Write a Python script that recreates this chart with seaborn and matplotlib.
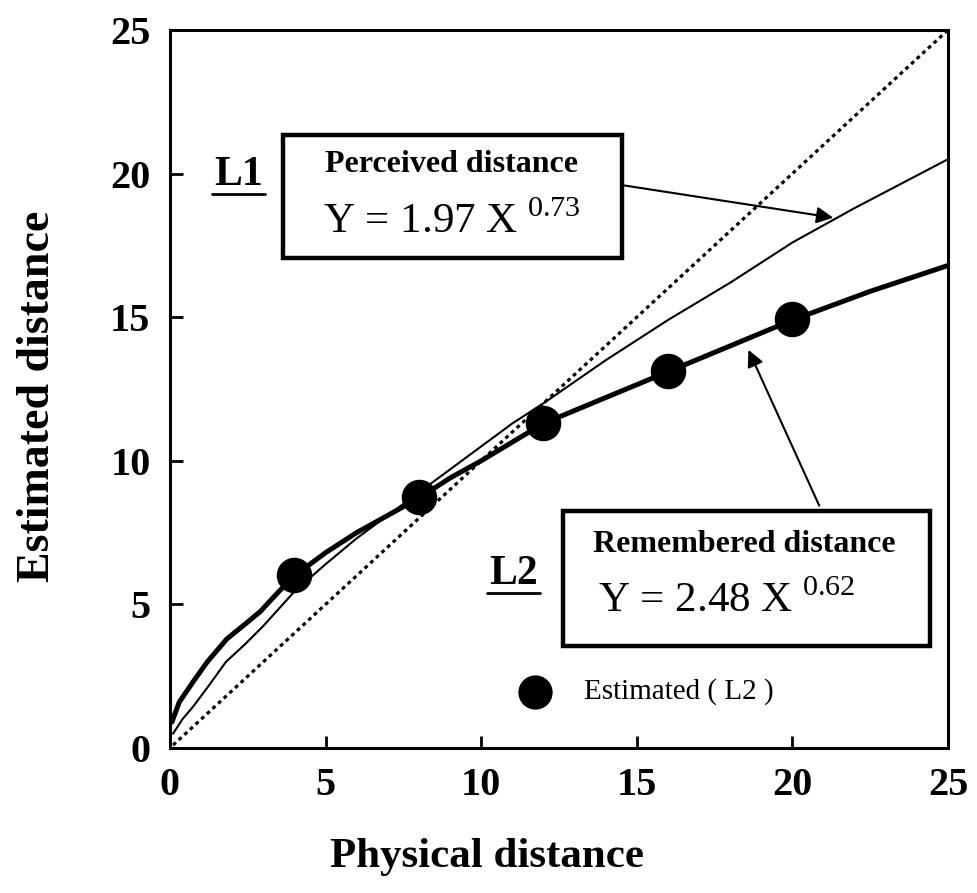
import numpy as np
import pandas as pd
import seaborn as sns
import matplotlib.pyplot as plt
from matplotlib.patches import Rectangle

# values
phys_thin = [0.1, 0.4, 0.75, 1.2, 1.8, 2.4, 3, 4, 5, 6, 7, 8, 9, 10, 11, 12, 14, 16, 18, 20, 22, 25]
perceived = [0.5, 1.0, 1.45, 2.1, 3.0, 3.6, 4.25, 5.45, 6.4, 7.3, 8.1, 8.9, 9.7, 10.5, 11.3, 12.0,
             13.5, 14.9, 16.2, 17.6, 18.8, 20.5]

phys_thick = [0.06, 0.3, 0.74, 1.2, 1.83, 2.4, 2.9, 3.5, 4, 5, 6, 7, 8, 9, 10, 11, 12, 14, 16, 18,
              20, 22.5, 25]
remembered = [0.9, 1.6, 2.3, 3.0, 3.8, 4.3, 4.75, 5.45, 6.0, 6.8, 7.5, 8.1, 8.7, 9.4, 10.0, 10.65,
              11.3, 12.2, 13.1, 14.0, 14.9, 15.9, 16.8]

phys_pts = [4, 8, 12, 16, 20]
estimated = [6.04, 8.73, 11.31, 13.13, 14.94]

diag = [0.1, 25]

sns.set_style("ticks")
plt.rcParams['font.family'] = ['Liberation Serif', 'DejaVu Serif']
plt.rcParams['mathtext.fontset'] = 'custom'
plt.rcParams['mathtext.rm'] = 'Liberation Serif'
for k in ['text.color', 'axes.labelcolor', 'xtick.color', 'ytick.color', 'axes.edgecolor']:
    plt.rcParams[k] = 'black'

fig = plt.figure(figsize=(9.78, 8.93), dpi=100)
ax = fig.add_axes([0.1738, 0.1624, 0.7955, 0.804])

sns.lineplot(x=diag, y=diag, ax=ax, color='black', lw=2.3, linestyle=(0, (1.2, 1.2)))
sns.lineplot(x=phys_thin, y=perceived, ax=ax, color='black', lw=1.5)
sns.lineplot(x=phys_thick, y=remembered, ax=ax, color='black', lw=3.6)
sns.scatterplot(x=phys_pts, y=estimated, ax=ax, color='black', s=560, edgecolor='black', zorder=5)

ax.set_xlim(0, 25)
ax.set_ylim(0, 25)
ax.set_xticks([0, 5, 10, 15, 20, 25])
ax.set_yticks([0, 5, 10, 15, 20, 25])
ax.tick_params(direction='in', length=9, width=2, labelsize=29, pad=14)
for lab in ax.get_xticklabels() + ax.get_yticklabels():
    lab.set_fontweight('bold')
for s in ax.spines.values():
    s.set_linewidth(2.2)
    s.set_color('black')

ax.set_xlabel('Physical distance', fontsize=31, fontweight='bold')
ax.xaxis.set_label_coords(0.407, -0.125)
ax.set_ylabel('Estimated distance', fontsize=33, fontweight='bold')
ax.yaxis.set_label_coords(-0.143, 0.49)

# annotation boxes
ax.add_patch(Rectangle((3.63, 17.06), 10.89, 4.28, fill=False, lw=3.2, ec='black', zorder=6))
ax.text(9.05, 20.3, 'Perceived distance', ha='center', va='center', fontsize=23, fontweight='bold')
ax.text(9.05, 18.3, r'Y = 1.97 X$^{\ 0.73}$', ha='center', va='center', fontsize=31)

ax.add_patch(Rectangle((12.63, 3.55), 11.79, 4.70, fill=False, lw=3.2, ec='black', zorder=6))
ax.text(18.45, 7.1, 'Remembered distance', ha='center', va='center', fontsize=23, fontweight='bold')
ax.text(17.9, 5.1, r'Y = 2.48 X$^{\ 0.62}$', ha='center', va='center', fontsize=31)

ax.text(2.2, 19.95, 'L1', ha='center', va='center', fontsize=30, fontweight='bold')
ax.plot([1.35, 3.05], [19.3, 19.3], color='black', lw=2)
ax.text(11.05, 6.05, 'L2', ha='center', va='center', fontsize=30, fontweight='bold')
ax.plot([10.2, 11.9], [5.4, 5.4], color='black', lw=2)

ax.annotate('', xy=(21.4, 18.45), xytext=(14.52, 19.6),
            arrowprops=dict(arrowstyle='-|>', color='black', lw=1.5, mutation_scale=25))
ax.annotate('', xy=(18.55, 13.95), xytext=(20.9, 8.35),
            arrowprops=dict(arrowstyle='-|>', color='black', lw=1.5, mutation_scale=25))

# legend-like marker
ax.scatter([11.73], [1.95], s=560, color='black', zorder=5)
ax.text(13.3, 1.95, 'Estimated ( L2 )', ha='left', va='center', fontsize=21)

fig.savefig('out.png', dpi=100)
